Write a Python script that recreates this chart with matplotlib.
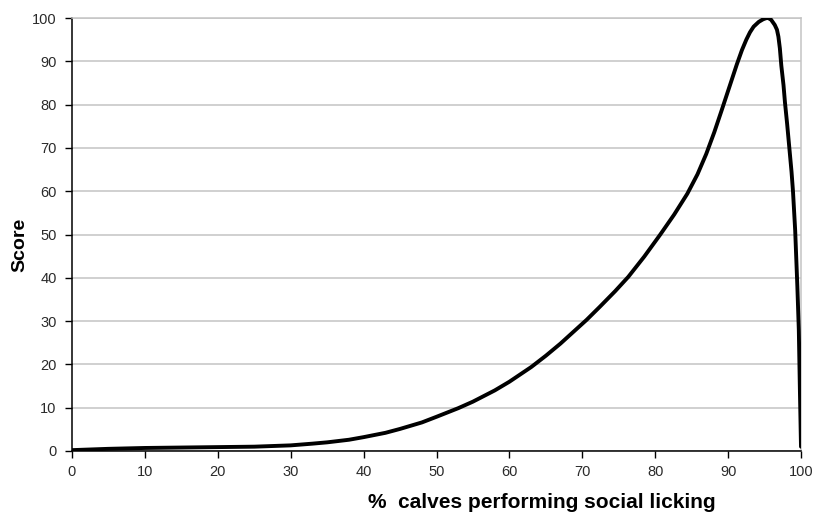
import matplotlib
matplotlib.use("Agg")
import matplotlib.pyplot as plt

plt.rcParams['font.family'] = ['Liberation Sans', 'DejaVu Sans']

pct_calves = [0, 2.5, 5, 7.5, 10, 15, 20, 25, 30, 33, 35, 38, 40, 43, 45, 48, 50, 53, 55, 58, 60, 63, 65, 67,
              70.6, 72.4, 74.5, 76.3, 78.5, 80.7, 82.6, 84.4, 85.8, 87.0, 88.1, 89.1, 90.2, 91.2, 91.9,
              92.5, 93.0, 93.5, 94.2, 94.8, 95.2, 95.5, 95.9, 96.4, 96.7, 96.9, 97.1, 97.3, 97.6,
              97.8, 98.1, 98.4, 98.7, 98.9, 99.2, 99.5, 99.7, 99.85, 100]
score = [0.2, 0.35, 0.5, 0.6, 0.7, 0.8, 0.9, 1.0, 1.3, 1.7, 2.0, 2.6, 3.2, 4.2, 5.1, 6.6, 7.9, 9.9, 11.4, 14.0, 16.0, 19.4, 22.0, 24.8,
         30.3, 33.3, 36.9, 40.2, 44.9, 50.0, 54.6, 59.4, 63.9, 68.6, 73.6, 78.6, 84.2, 89.3, 92.6,
         95.0, 96.7, 98.0, 99.1, 99.7, 99.95, 100.0, 99.6, 98.4, 97.3, 95.7, 93.0, 89.0, 84.5,
         80.5, 75.5, 70.0, 64.5, 60.0, 51.0, 38.0, 28.0, 14.0, 1.0]

xticks = list(range(0, 101, 10))
yticks = list(range(0, 101, 10))

fig = plt.figure(figsize=(8.16, 5.15), dpi=100)
ax = fig.add_axes([72/816, 1 - 451/515, (801-72)/816, (451-18)/515])

ax.plot(pct_calves, score, color='black', lw=2.8, solid_capstyle='round', solid_joinstyle='round', zorder=3)

ax.set_xlim(0, 100)
ax.set_ylim(0, 100)
ax.set_xticks(xticks)
ax.set_yticks(yticks)
ax.yaxis.grid(True, color='#c4c4c4', lw=1.1)
ax.set_axisbelow(True)

for s in ['left', 'bottom']:
    ax.spines[s].set_color('black')
    ax.spines[s].set_linewidth(1.1)
for s in ['right', 'top']:
    ax.spines[s].set_color('#c4c4c4')
    ax.spines[s].set_linewidth(1.1)

ax.tick_params(axis='both', direction='out', length=5, width=1, color='black',
               labelsize=10.5, labelcolor='#2a2a2a')
ax.tick_params(axis='y', pad=6)
ax.tick_params(axis='x', pad=5)

fig.text(20/816, 1 - 245/515, 'Score', rotation=90, ha='center', va='center',
         fontsize=14, fontweight='bold')
fig.text(542/816, 1 - 508/515, '%  calves performing social licking', ha='center', va='baseline',
         fontsize=15, fontweight='bold')

fig.savefig('out.png', dpi=100)
